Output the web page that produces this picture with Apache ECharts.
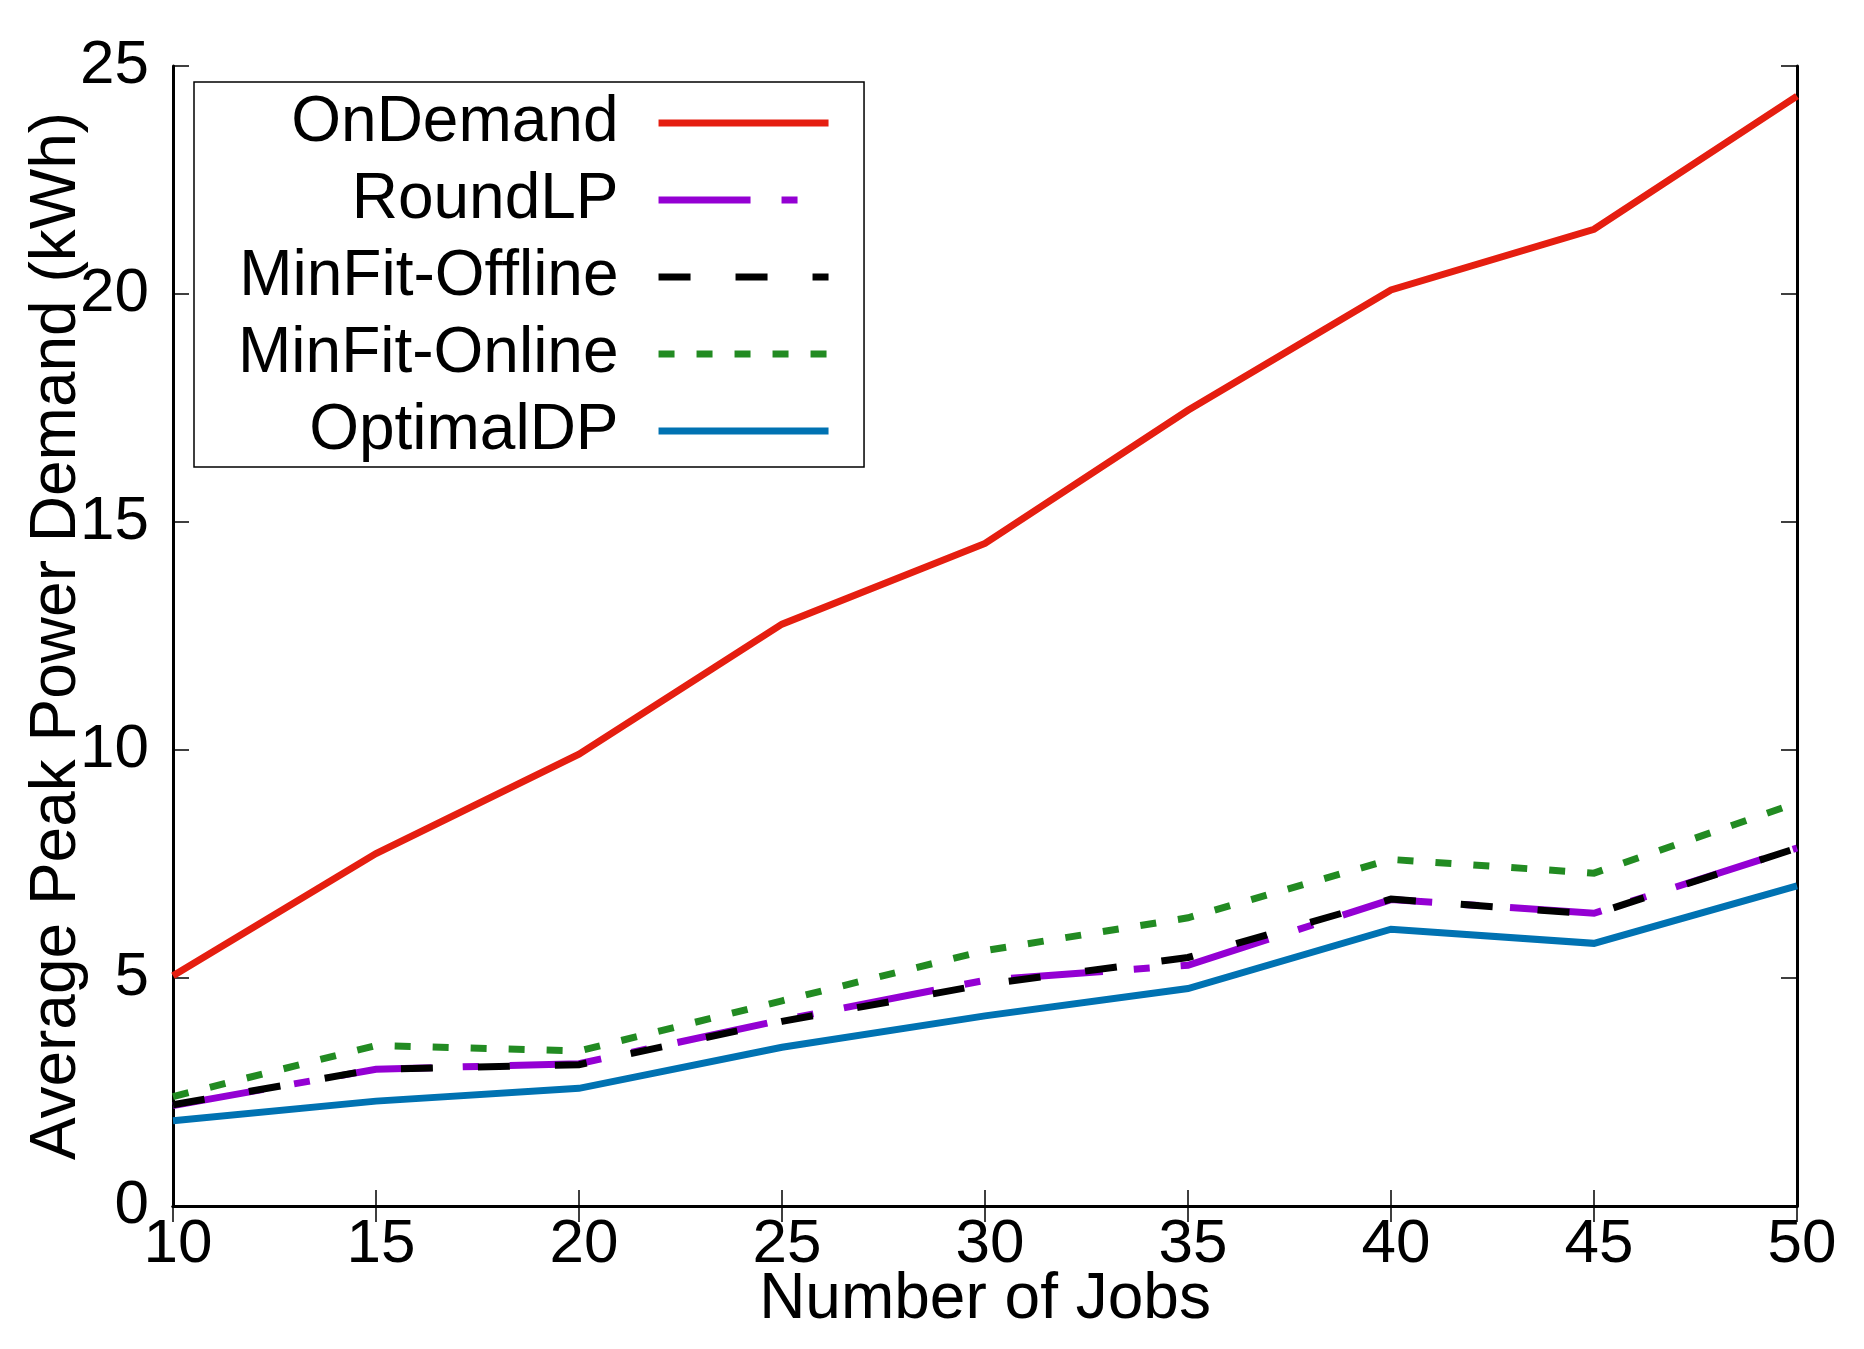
<!DOCTYPE html>
<html>
<head>
<meta charset="utf-8">
<script src="https://cdn.jsdelivr.net/npm/echarts@6/dist/echarts.min.js"></script>
<style>
html,body{margin:0;padding:0;background:#fff;}
#chart{width:1864px;height:1349px;}
</style>
</head>
<body>
<div id="chart"></div>
<script>
const jobs = [10, 15, 20, 25, 30, 35, 40, 45, 50];
const onDemand      = [5.05, 7.73, 9.91, 12.76, 14.53, 17.45, 20.09, 21.42, 24.34];
const roundLP       = [2.20, 3.00, 3.12, 4.08, 4.95, 5.28, 6.72, 6.42, 7.85];
const minFitOffline = [2.22, 3.00, 3.10, 4.05, 4.86, 5.45, 6.73, 6.40, 7.85];
const minFitOnline  = [2.40, 3.52, 3.40, 4.50, 5.60, 6.32, 7.60, 7.30, 8.84];
const optimalDP     = [1.87, 2.30, 2.58, 3.48, 4.17, 4.77, 6.07, 5.76, 7.02];
const seriesNames = ['OnDemand', 'RoundLP', 'MinFit-Offline', 'MinFit-Online', 'OptimalDP'];
const xTicks = [10, 15, 20, 25, 30, 35, 40, 45, 50];
const yTicks = [0, 5, 10, 15, 20, 25];

const FONT = 'Liberation Sans';
const FS_TICK = 62;
const FS_TEXT = 64;
const LW = 7;
const pair = arr => jobs.map((x, i) => [x, arr[i]]);

const styles = [
  {color: '#e51e10', type: 'solid'},
  {color: '#9400d3', type: [92, 31, 16, 31]},
  {color: '#000000', type: [32, 45]},
  {color: '#228b22', type: [16, 22]},
  {color: '#0072b2', type: 'solid'}
];
const values = [onDemand, roundLP, minFitOffline, minFitOnline, optimalDP];

const chart = echarts.init(document.getElementById('chart'), null, {renderer: 'canvas'});
const axisCommon = {
  type: 'value',
  axisLine: {show: true, lineStyle: {color: '#000', width: 3}},
  axisTick: {show: true, inside: true, length: 16, lineStyle: {color: '#000', width: 1.5}},
  splitLine: {show: false}
};
chart.setOption({
  animation: false,
  backgroundColor: '#fff',
  grid: {left: 173, right: 67, top: 66, bottom: 143, containLabel: false},
  legend: {
    orient: 'vertical',
    left: 194, top: 82,
    align: 'right',
    itemWidth: 170, itemHeight: 8,
    itemGap: 13,
    padding: [9, 32, 4, 44],
    borderColor: '#000', borderWidth: 1.5,
    itemStyle: {opacity: 0, color: 'rgba(0,0,0,0)', borderWidth: 0},
    lineStyle: {width: LW},
    textStyle: {fontFamily: FONT, fontSize: FS_TEXT, color: '#000', padding: [0, 35, 0, 0]},
    data: seriesNames
  },
  xAxis: [
    Object.assign({}, axisCommon, {
      position: 'bottom', min: xTicks[0], max: xTicks[xTicks.length - 1], interval: 5,
      name: 'Number of Jobs', nameLocation: 'middle', nameGap: 62, nameMoveOverlap: false,
      nameTextStyle: {fontFamily: FONT, fontSize: FS_TEXT, color: '#000'},
      axisLabel: {fontFamily: FONT, fontSize: FS_TICK, color: '#000', margin: 8, padding: [0, 0, 0, 10]}
    }),
    Object.assign({}, axisCommon, {
      position: 'top', min: xTicks[0], max: xTicks[xTicks.length - 1], interval: 5,
      axisLabel: {show: false}
    })
  ],
  yAxis: [
    Object.assign({}, axisCommon, {
      position: 'left', min: yTicks[0], max: yTicks[yTicks.length - 1], interval: 5,
      name: 'Average Peak Power Demand (kWh)', nameLocation: 'middle', nameGap: 84, nameMoveOverlap: false,
      nameTextStyle: {fontFamily: FONT, fontSize: FS_TEXT, color: '#000'},
      axisLabel: {fontFamily: FONT, fontSize: FS_TICK, color: '#000', margin: 24}
    }),
    Object.assign({}, axisCommon, {
      position: 'right', min: yTicks[0], max: yTicks[yTicks.length - 1], interval: 5,
      axisLabel: {show: false}
    })
  ],
  series: seriesNames.map((name, i) => ({
    name: name,
    type: 'line',
    xAxisIndex: 0, yAxisIndex: 0,
    data: pair(values[i]),
    symbol: 'none',
    showSymbol: false,
    color: styles[i].color,
    lineStyle: {color: styles[i].color, width: LW, type: styles[i].type, cap: 'butt', join: 'miter'},
    z: 2 + i
  }))
});
</script>
</body>
</html>
